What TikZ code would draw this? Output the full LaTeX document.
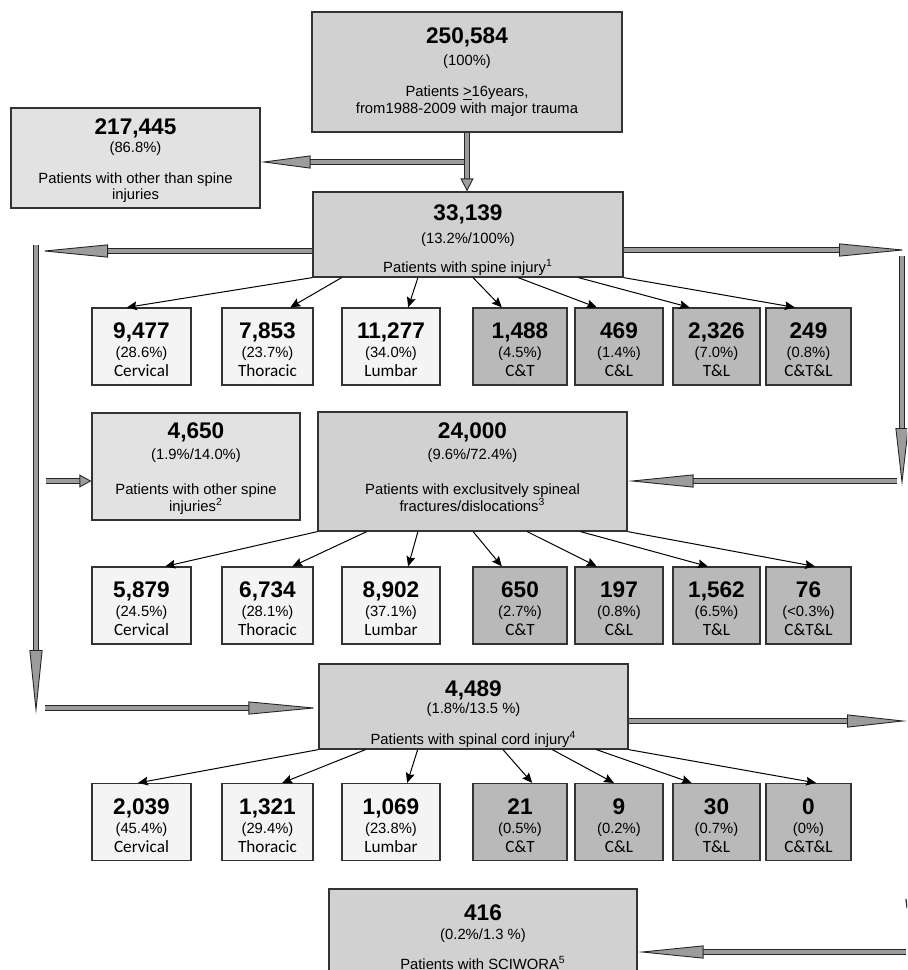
\documentclass[tikz,border=0pt]{standalone}
\usepackage{fontspec}
\setmainfont{Liberation Sans}
\newfontfamily\calib{Carlito}
\usetikzlibrary{
  arrows,
  arrows.meta,
  calc
}
\definecolor{boxgray}{HTML}{D0D1D0}
\definecolor{sidegray}{HTML}{E2E2E2}
\definecolor{sitegray}{HTML}{F4F4F4}
\definecolor{combogray}{HTML}{B9B9B9}
\definecolor{flowgray}{HTML}{9C9C9C}
\newcommand{\cnt}[1]{{\fontsize{11.3}{12}\selectfont\bfseries #1}}
\newcommand{\share}[1]{{\fontsize{7.4}{9}\selectfont #1}}
\newcommand{\site}[1]{{\calib\fontsize{8.6}{10}\selectfont #1}}
\newcommand{\pad}[1]{\rule{0pt}{#1}}
\newcommand{\padlow}[1]{\rule[-#1]{0pt}{#1}}
\newcommand{\tally}[3]{\pad{11.1pt}\cnt{#1}\\[0.5pt]\share{#2}\\[0.5pt]\site{#3}}

\begin{document}
\begin{tikzpicture}[
      x=0.5pt, y=-0.5pt,
      mainbox/.style={
         rectangle,
         draw=black!80,
         line width=0.6pt,
         fill=boxgray,
         inner sep=0pt,
         align=center,
         font=\fontsize{7.4}{9}\selectfont
      },
      sidebox/.style={mainbox, fill=sidegray},
      region/.style={
         mainbox,
         fill=sitegray,
         minimum width=#1,
         minimum height=38.5pt
      },
      combo/.style={region=#1, fill=combogray},
      tip/.style={-{Stealth[length=5pt,width=4.4pt,inset=0.8pt]}, line width=0.5pt},
      flow/.style={
         draw=black!85, line width=0.45pt,
         double=flowgray, double distance=2pt,
         -{Triangle[length=#1, width=6.5pt, fill=flowgray, line width=0.45pt]}
      }
    ]
    \useasboundingbox (0,0) rectangle (907,970);
    \clip (0,0) rectangle (907,970);

    % main boxes
    \node[mainbox, minimum width=155pt, minimum height=60pt] (total) at (467,72)
       {\cnt{250,584}\\[1.75pt]\share{(100\%)}\\[6.5pt]Patients \underline{>}16years,\\[-0.5pt]from1988-2009 with major trauma};
    \node[sidebox, minimum width=124.5pt, minimum height=50pt] (other) at (135.5,158)
       {\pad{10.6pt}\cnt{217,445}\\[0.25pt]\share{(86.8\%)}\\[6.5pt]Patients with other than spine\\[-1pt]injuries};
    \node[mainbox, minimum width=155pt, minimum height=42.5pt] (spine) at (468,234.5)
       {\pad{13.6pt}\cnt{33,139}\\[2.75pt]\share{(13.2\%/100\%)}\\[5.5pt]Patients with spine injury\textsuperscript{1}};
    \node[sidebox, minimum width=104pt, minimum height=53.5pt] (otherspine) at (196,466.5)
       {\pad{10.1pt}\cnt{4,650}\\[1.25pt]\share{(1.9\%/14.0\%)}\\[8.5pt]Patients with other spine\\[-0.5pt]injuries\textsuperscript{2}};
    \node[mainbox, minimum width=154.5pt, minimum height=59.5pt] (fract) at (472.5,471.5)
       {\cnt{24,000}\\[1.25pt]\share{(9.6\%/72.4\%)}\\[8.5pt]Patients with exclusitvely spineal\\[-0.5pt]fractures/dislocations\textsuperscript{3}\padlow{4.5pt}};
    \node[mainbox, minimum width=154.5pt, minimum height=42.5pt] (cord) at (473.5,706.5)
       {\pad{15.6pt}\cnt{4,489}\\[-0.25pt]\share{(1.8\%/13.5 \%)}\\[6.5pt]Patients with spinal cord injury\textsuperscript{4}};
    \node[mainbox, minimum width=154pt, minimum height=48pt] (sciwora) at (483,937)
       {\cnt{416}\\[0.75pt]\share{(0.2\%/1.3 \%)}\\[6pt]Patients with SCIWORA\textsuperscript{5}};

    % spine injury regions
    \node[region=49.5pt] (sp1) at (141.5,346.5) {\tally{9,477}{(28.6\%)}{Cervical}};
    \node[region=45.5pt] (sp2) at (267.5,346.5) {\tally{7,853}{(23.7\%)}{Thoracic}};
    \node[region=49pt]   (sp3) at (391,346.5)   {\tally{11,277}{(34.0\%)}{Lumbar}};
    \node[combo=47pt]    (sp4) at (520,346.5)   {\tally{1,488}{(4.5\%)}{C\&T}};
    \node[combo=44pt]    (sp5) at (619,346.5)   {\tally{469}{(1.4\%)}{C\&L}};
    \node[combo=43.5pt]  (sp6) at (716.5,346.5) {\tally{2,326}{(7.0\%)}{T\&L}};
    \node[combo=42.5pt]  (sp7) at (808.5,346.5) {\tally{249}{(0.8\%)}{C\&T\&L}};

    % fracture regions
    \node[region=49.5pt] (fx1) at (141.5,605.5) {\tally{5,879}{(24.5\%)}{Cervical}};
    \node[region=45.5pt] (fx2) at (267.5,605.5) {\tally{6,734}{(28.1\%)}{Thoracic}};
    \node[region=49pt]   (fx3) at (391,605.5)   {\tally{8,902}{(37.1\%)}{Lumbar}};
    \node[combo=47pt]    (fx4) at (520,605.5)   {\tally{650}{(2.7\%)}{C\&T}};
    \node[combo=44pt]    (fx5) at (619,605.5)   {\tally{197}{(0.8\%)}{C\&L}};
    \node[combo=43.5pt]  (fx6) at (716.5,605.5) {\tally{1,562}{(6.5\%)}{T\&L}};
    \node[combo=42.5pt]  (fx7) at (808.5,605.5) {\tally{76}{(<0.3\%)}{C\&T\&L}};

    % cord injury regions
    \node[region=49.5pt] (sc1) at (141.5,822) {\tally{2,039}{(45.4\%)}{Cervical}};
    \node[region=45.5pt] (sc2) at (267.5,822) {\tally{1,321}{(29.4\%)}{Thoracic}};
    \node[region=49pt]   (sc3) at (391,822)   {\tally{1,069}{(23.8\%)}{Lumbar}};
    \node[combo=47pt]    (sc4) at (520,822)   {\tally{21}{(0.5\%)}{C\&T}};
    \node[combo=44pt]    (sc5) at (619,822)   {\tally{9}{(0.2\%)}{C\&L}};
    \node[combo=43.5pt]  (sc6) at (716.5,822) {\tally{30}{(0.7\%)}{T\&L}};
    \node[combo=42.5pt]  (sc7) at (808.5,822) {\tally{0}{(0\%)}{C\&T\&L}};

    % free ends of the flow arrows
    \coordinate (fork) at (467,162);
    \coordinate (lt) at (40,251);
    \coordinate (lv1) at (36,245);
    \coordinate (lv2) at (36,714);
    \coordinate (lh) at (45,708);
    \coordinate (ls) at (46,481);
    \coordinate (rt) at (907,250);
    \coordinate (rv1) at (902,256);
    \coordinate (rv2) at (902,486);
    \coordinate (rh) at (897,481);
    \coordinate (rc) at (907,721);
    \coordinate (rs) at (906,952);
    \coordinate (tk1) at (906,899);
    \coordinate (tk2) at (907,908);

    % flow arrows
    \draw[flow=25pt] (fork) -- (fork -| other.east);
    \draw[flow=6.5pt] (total.south) -- (total.south |- spine.north);
    \draw[flow=34pt] (spine.west |- lt) -- (lt);
    \draw[flow=32pt] (lv1) -- (lv2);
    \draw[flow=35pt] (lh) -- (lh -| cord.west);
    \draw[flow=6pt] (ls) -- (ls -| otherspine.west);
    \draw[flow=34pt] (spine.east |- rt) -- (rt);
    \draw[flow=29pt] (rv1) -- (rv2);
    \draw[flow=33pt] (rh) -- (rh -| fract.east);
    \draw[flow=30pt] (cord.east |- rc) -- (rc);
    \draw[flow=33pt] (rs) -- (rs -| sciwora.east);
    \draw[line width=0.6pt, black!85] (tk1) -- (tk2);

    % spine injury split
    \draw[tip] (spine.south west) -- ($(sp1.north west)!.354!(sp1.north east)$);
    \draw[tip] ($(spine.south west)!.094!(spine.south east)$) -- ($(sp2.north west)!.747!(sp2.north east)$);
    \draw[tip] ($(spine.south west)!.339!(spine.south east)$) -- ($(sp3.north west)!.673!(sp3.north east)$);
    \draw[tip] ($(spine.south west)!.516!(spine.south east)$) -- ($(sp4.north west)!.309!(sp4.north east)$);
    \draw[tip] ($(spine.south west)!.661!(spine.south east)$) -- ($(sp5.north west)!.25!(sp5.north east)$);
    \draw[tip] ($(spine.south west)!.855!(spine.south east)$) -- ($(sp6.north west)!.195!(sp6.north east)$);
    \draw[tip] (spine.south east) -- ($(sp7.north west)!.341!(sp7.north east)$);

    % fracture split
    \draw[tip] (fract.south west) -- ($(fx1.north west)!.737!(fx1.north east)$);
    \draw[tip] ($(fract.south west)!.159!(fract.south east)$) -- ($(fx2.north west)!.769!(fx2.north east)$);
    \draw[tip] ($(fract.south west)!.324!(fract.south east)$) -- ($(fx3.north west)!.673!(fx3.north east)$);
    \draw[tip] ($(fract.south west)!.502!(fract.south east)$) -- ($(fx4.north west)!.309!(fx4.north east)$);
    \draw[tip] ($(fract.south west)!.676!(fract.south east)$) -- ($(fx5.north west)!.25!(fx5.north east)$);
    \draw[tip] ($(fract.south west)!.848!(fract.south east)$) -- ($(fx6.north west)!.402!(fx6.north east)$);
    \draw[tip] (fract.south east) -- ($(fx7.north west)!.576!(fx7.north east)$);

    % cord injury split
    \draw[tip] (cord.south west) -- ($(sc1.north west)!.465!(sc1.north east)$);
    \draw[tip] ($(cord.south west)!.152!(cord.south east)$) -- ($(sc2.north west)!.659!(sc2.north east)$);
    \draw[tip] ($(cord.south west)!.320!(cord.south east)$) -- ($(sc3.north west)!.663!(sc3.north east)$);
    \draw[tip] ($(cord.south west)!.595!(cord.south east)$) -- ($(sc4.north west)!.628!(sc4.north east)$);
    \draw[tip] ($(cord.south west)!.754!(cord.south east)$) -- ($(sc5.north west)!.443!(sc5.north east)$);
    \draw[tip] ($(cord.south west)!.896!(cord.south east)$) -- ($(sc6.north west)!.218!(sc6.north east)$);
    \draw[tip] (cord.south east) -- ($(sc7.north west)!.588!(sc7.north east)$);
\end{tikzpicture}
\end{document}
